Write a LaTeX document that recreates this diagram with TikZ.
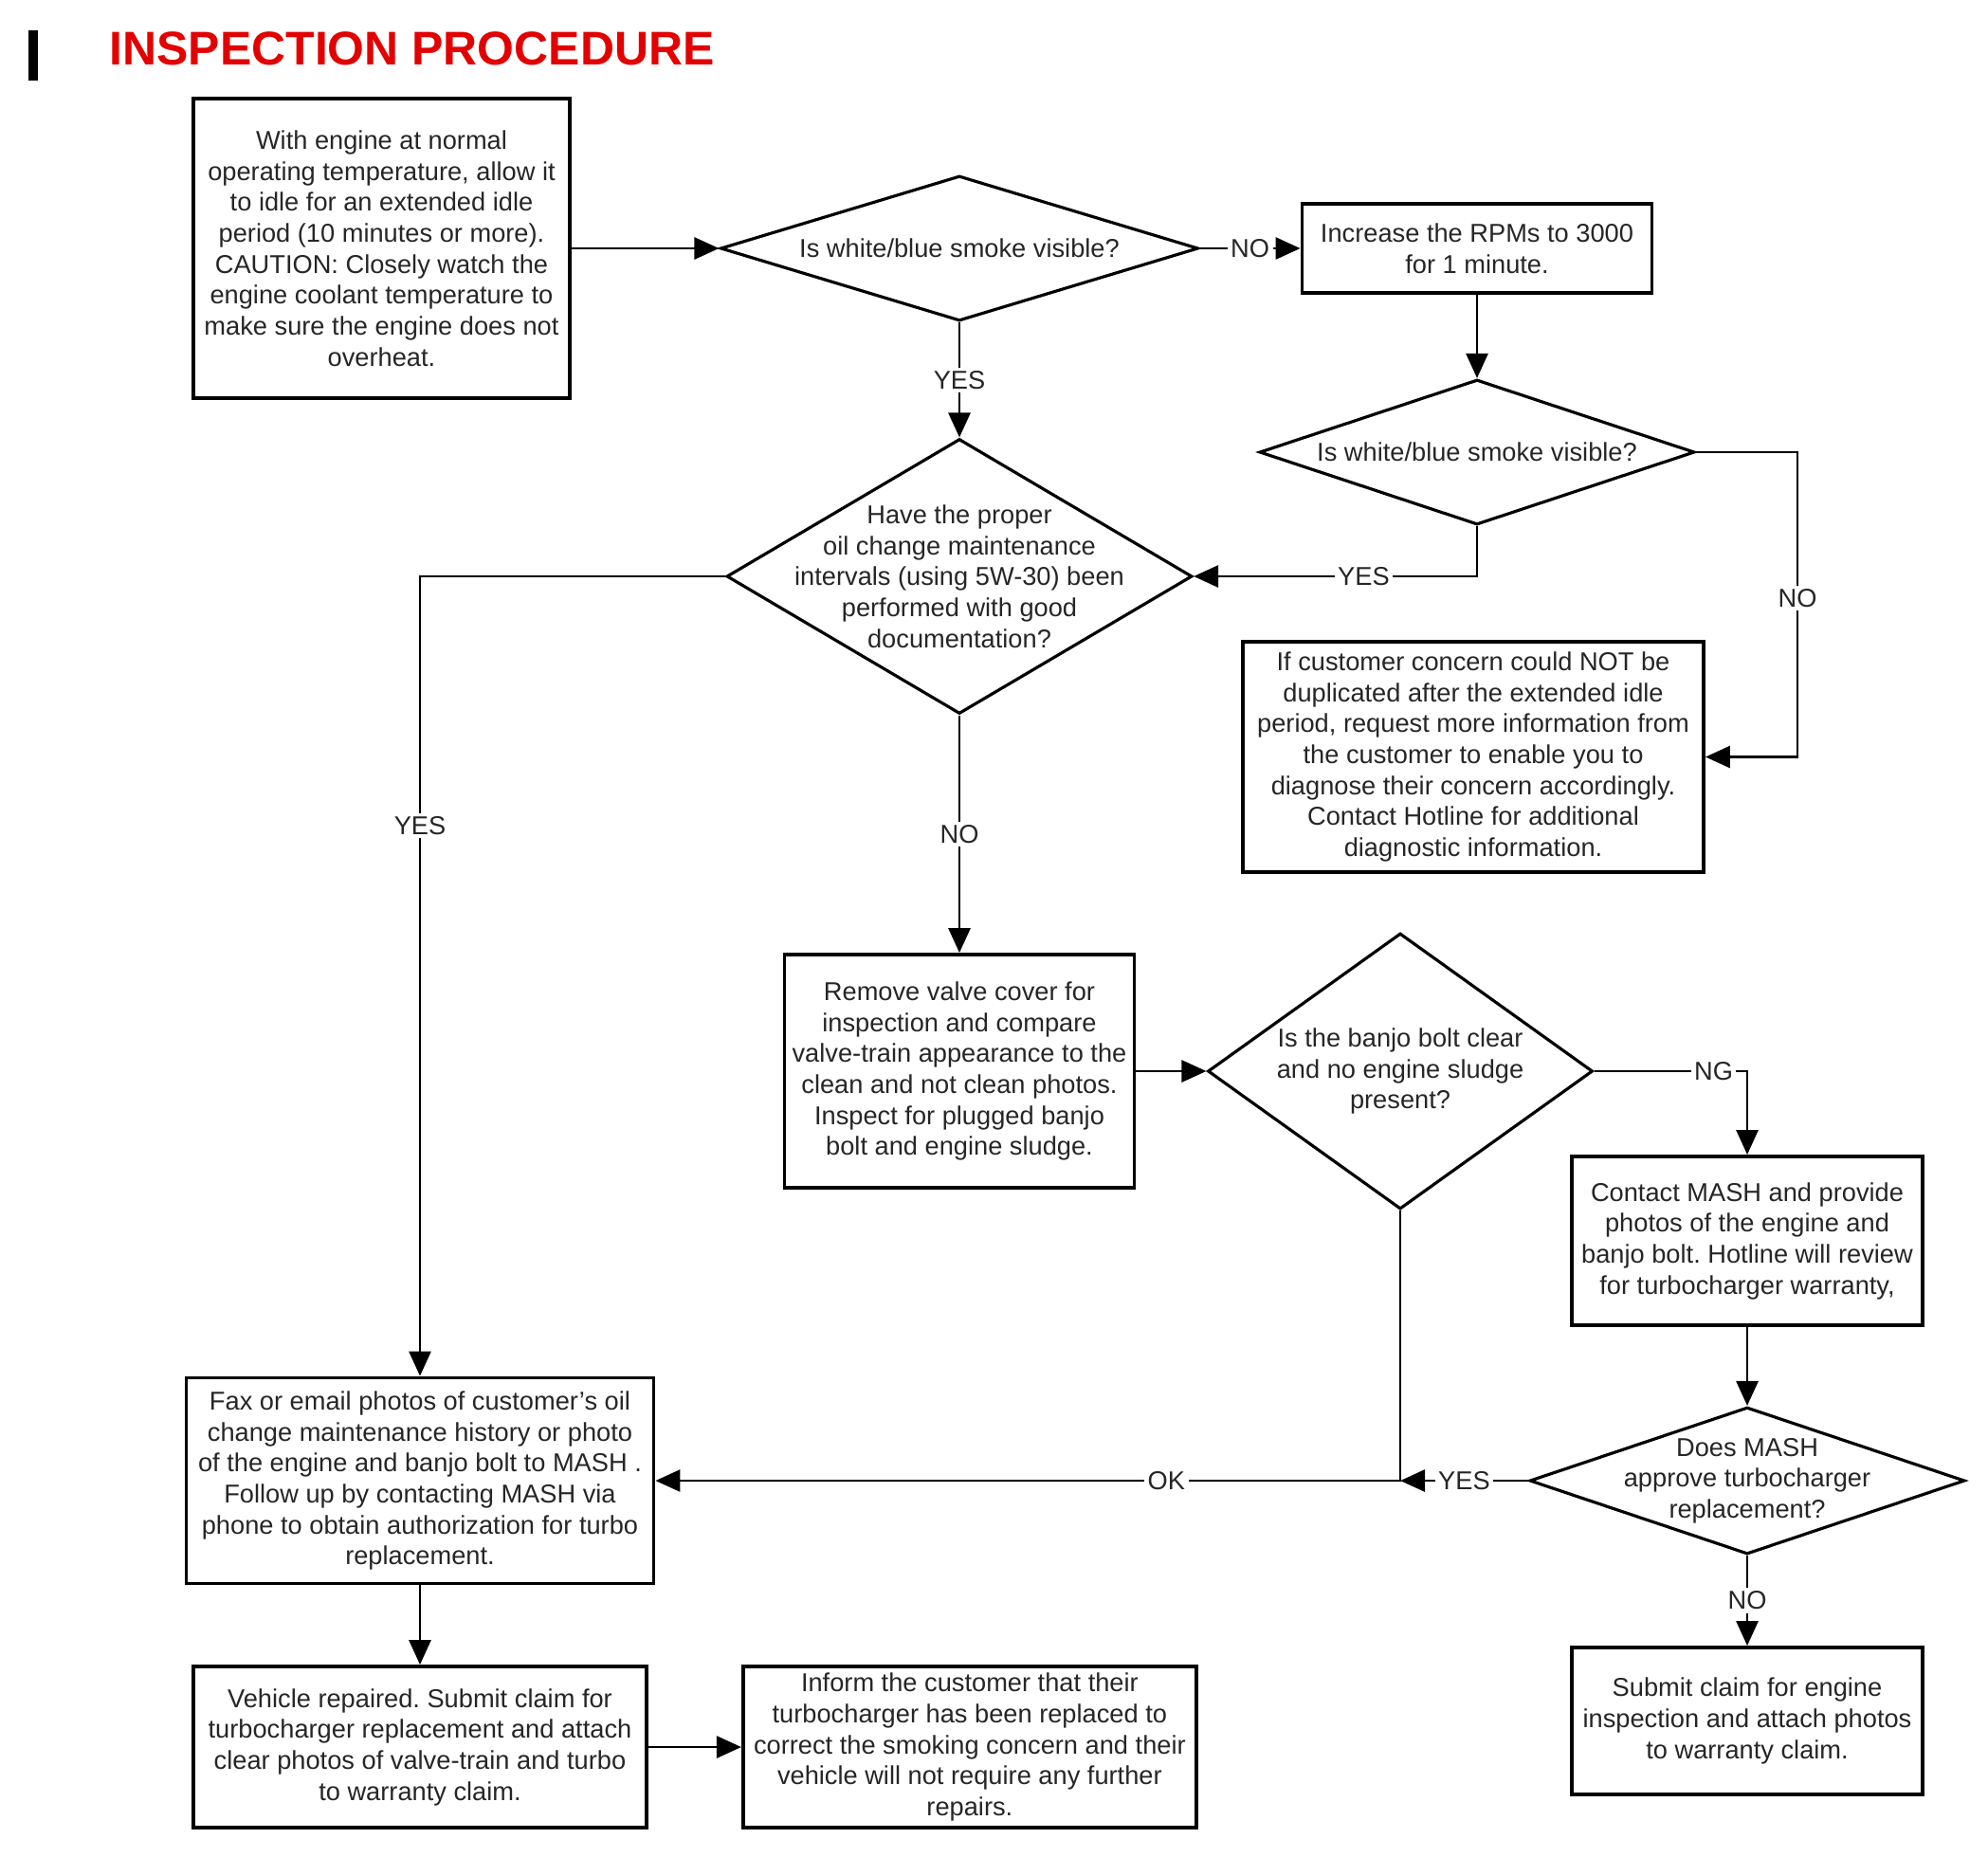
\documentclass[tikz,border=0pt]{standalone}
\usepackage{fontspec}
\usepackage{tikz}
\usetikzlibrary{positioning, shapes.geometric, arrows.meta}
\newfontfamily\flowfont{Liberation Sans}
\frenchspacing
\definecolor{titlered}{RGB}{226,0,0}
\definecolor{inkgray}{RGB}{38,38,38}
\tikzset{
    block/.style={
        draw, line width = 1.1pt,
        inner sep = 0pt,
        align = center,
        text = inkgray,
        font = \flowfont\fontsize{7.75}{9.3}\selectfont
    },
    decision/.style={
        draw, diamond, line width = 0.9pt,
        inner sep = -2cm,
        align = center,
        text = inkgray,
        font = \flowfont\fontsize{7.75}{9.3}\selectfont
    },
    lbl/.style = {fill = white, inner sep = 1pt, text = inkgray,
        font = \flowfont\fontsize{7.75}{9.3}\selectfont},
    line/.style = {line width = 0.8pt, -{Triangle[length=2.6mm, width=2.3mm]}}
}

\begin{document}
\begin{tikzpicture}

    \useasboundingbox[fill=white] (0,0) rectangle (20.97,-19.77);

    % Title
    \fill (0.30,-0.32) rectangle (0.40,-0.85);
    \node[anchor=base west, inner sep=0pt, text=titlered,
        font=\flowfont\fontsize{14.2}{16}\selectfont\bfseries] (title) at (1.15,-0.68) {INSPECTION PROCEDURE};

    % Idle check
    \node[block, minimum width=3.97cm, minimum height=3.16cm] (idle) at (4.025,-2.62)
        {With engine at normal\\operating temperature, allow it\\to idle for an extended idle\\period (10 minutes or more).\\CAUTION: Closely watch the\\engine coolant temperature to\\make sure the engine does not\\overheat.};

    \node[decision, minimum width=5.04cm, minimum height=1.53cm] (smoke1) at (10.12,-2.62)
        {Is white/blue smoke visible?};

    \node[block, minimum width=3.69cm, minimum height=0.94cm] (rpm) at (15.58,-2.62)
        {Increase the RPMs to 3000\\for 1 minute.};

    \node[decision, minimum width=4.59cm, minimum height=1.53cm] (smoke2) at (15.58,-4.77)
        {Is white/blue smoke visible?};

    % Oil change question
    \node[decision, minimum width=4.91cm, minimum height=2.90cm] (oil) at (10.12,-6.08)
        {Have the proper\\oil change maintenance\\intervals (using 5W-30) been\\performed with good\\documentation?};

    \node[block, minimum width=4.86cm, minimum height=2.43cm] (notdup) at (15.54,-7.985)
        {If customer concern could NOT be\\duplicated after the extended idle\\period, request more information from\\the customer to enable you to\\diagnose their concern accordingly.\\Contact Hotline for additional\\diagnostic information.};

    % Valve cover
    \node[block, minimum width=3.69cm, minimum height=2.46cm] (valve) at (10.12,-11.30)
        {Remove valve cover for\\inspection and compare\\valve-train appearance to the\\clean and not clean photos.\\Inspect for plugged banjo\\bolt and engine sludge.};

    \node[decision, minimum width=4.06cm, minimum height=2.91cm] (banjo) at (14.77,-11.30)
        {Is the banjo bolt clear\\and no engine sludge\\present?};

    \node[block, minimum width=3.70cm, minimum height=1.78cm] (mash) at (18.43,-13.09)
        {Contact MASH and provide\\photos of the engine and\\banjo bolt. Hotline will review\\for turbocharger warranty,};

    \node[decision, minimum width=4.59cm, minimum height=1.55cm] (approve) at (18.43,-15.62)
        {Does MASH\\approve turbocharger\\replacement?};

    \node[block, minimum width=3.70cm, minimum height=1.55cm] (engclaim) at (18.43,-18.155)
        {Submit claim for engine\\inspection and attach photos\\to warranty claim.};

    % Turbo replacement
    \node[block, minimum width=4.93cm, minimum height=2.17cm] (fax) at (4.43,-15.62)
        {Fax or email photos of customer’s oil\\change maintenance history or photo\\of the engine and banjo bolt to MASH .\\Follow up by contacting MASH via\\phone to obtain authorization for turbo\\replacement.};

    \node[block, minimum width=4.78cm, minimum height=1.70cm] (repaired) at (4.43,-18.43)
        {Vehicle repaired. Submit claim for\\turbocharger replacement and attach\\clear photos of valve-train and turbo\\to warranty claim.};

    \node[block, minimum width=4.78cm, minimum height=1.70cm, right=0.98cm of repaired] (inform)
        {Inform the customer that their\\turbocharger has been replaced to\\correct the smoking concern and their\\vehicle will not require any further\\repairs.};

    \coordinate (smokeno) at (18.96,-4.77);
    \coordinate (join) at (banjo.south |- approve.west);

    % Lines
    \draw[line] (idle.east) -- (smoke1.west);
    \draw[line] (smoke1.east) -- node[lbl]{NO} (rpm.west);
    \draw[line] (smoke1.south) -- node[lbl]{YES} (oil.north);
    \draw[line] (rpm.south) -- (smoke2.north);
    \draw[line] (smoke2.south) |- node[lbl, pos=0.7]{YES} (oil.east);
    \draw[line] (smoke2.east) -- (smokeno) |- node[lbl, pos=0.24]{NO} (notdup.east);
    \draw[line] (oil.west) -| node[lbl, pos=0.656]{YES} (fax.north);
    \draw[line] (oil.south) -- node[lbl]{NO} (valve.north);
    \draw[line] (valve.east) -- (banjo.west);
    \draw[line] (banjo.east) -| node[lbl, pos=0.39]{NG} (mash.north);
    \draw[line] (mash.south) -- (approve.north);
    \draw[line] (approve.west) -- node[lbl]{YES} (join);
    \draw[line] (banjo.south) |- node[lbl, pos=0.657]{OK} (fax.east);
    \draw[line] (approve.south) -- node[lbl]{NO} (engclaim.north);
    \draw[line] (fax.south) -- (repaired.north);
    \draw[line] (repaired.east) -- (inform.west);

\end{tikzpicture}
\end{document}
